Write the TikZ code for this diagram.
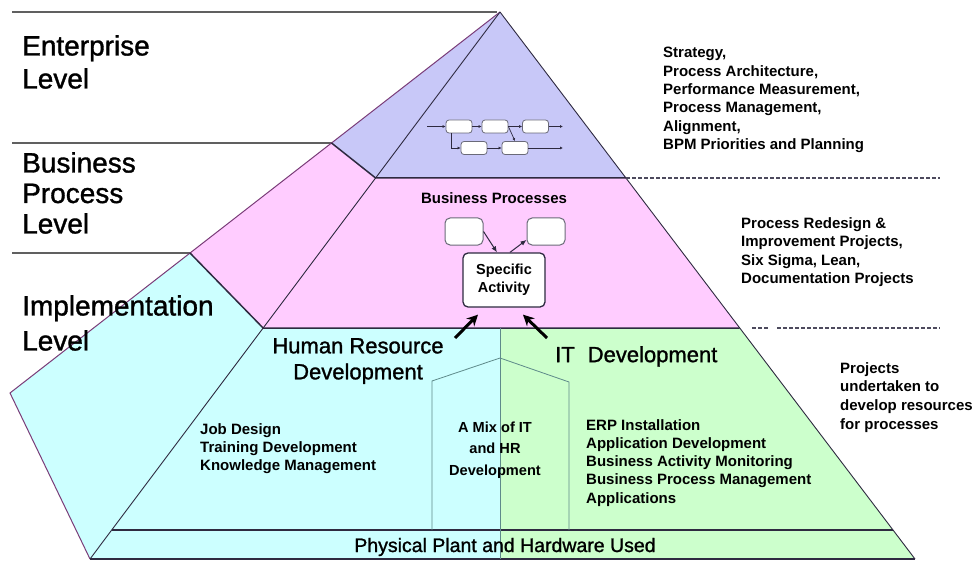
\documentclass[tikz,border=0pt]{standalone}
\usepackage{fontspec}
\setmainfont{Liberation Sans}
\newfontfamily\heavysans[FakeBold=1.2]{Liberation Sans}
\usetikzlibrary{arrows.meta,calc}
\definecolor{lav}{HTML}{C8C8F8}
\definecolor{pinkf}{HTML}{FFCCFF}
\definecolor{cyanf}{HTML}{CCFFFF}
\definecolor{greenf}{HTML}{CCFFCC}
\definecolor{edge}{HTML}{2E2A40}
\definecolor{rim}{HTML}{7A3C78}
\definecolor{rule}{HTML}{606060}
\definecolor{seam}{HTML}{5E8A8A}
\definecolor{boxline}{HTML}{6A6A78}
\begin{document}
\begin{tikzpicture}[x=1pt,y=-1pt,
  lvl/.style={font=\heavysans\fontsize{28}{33}\selectfont, align=left, anchor=north west, inner sep=0pt},
  note/.style={font=\fontsize{15}{18.4}\selectfont\bfseries, align=left, anchor=north west, inner sep=0pt},
  big/.style={font=\heavysans\fontsize{22}{26}\selectfont, inner sep=0pt},
  fbox/.style={draw=boxline, fill=white, rounded corners=3pt, minimum width=26pt, minimum height=13pt, inner sep=0pt, line width=0.8pt},
  pbox/.style={draw=boxline, fill=white, rounded corners=5pt, minimum width=38pt, minimum height=27pt, inner sep=0pt, line width=1pt},
  flow/.style={draw=edge, line width=0.7pt, -{Latex[length=3pt,width=3pt]}},
  thin arrow/.style={draw=edge, line width=1pt, -{Latex[length=6pt,width=5pt]}},
  fat arrow/.style={draw=black, line width=3pt, -{Stealth[length=11pt,width=11pt]}},
  guide/.style={draw=rule, line width=1.2pt},
  ridge/.style={draw=edge, line width=1.5pt},
  dashrule/.style={draw=edge!85, line width=1.3pt, dash pattern=on 4pt off 2pt}]
\useasboundingbox (0,0) rectangle (976,561);

% corner points of the pyramid
\coordinate (apex) at (500,12);
\coordinate (far) at (10,393);
\coordinate (bl) at (90,559);
\coordinate (br) at (915,559);
\coordinate (o1) at (331.5,143);
\coordinate (o2) at (190,253);
\coordinate (f1) at (375.6,178);
\coordinate (r1) at (626,178);
\coordinate (f2) at (263.1,328);
\coordinate (r2) at (739.7,328);
\coordinate (f3) at (111.7,530);
\coordinate (r3) at (893,530);
\coordinate (m2) at (500,328);
\coordinate (mb) at (500,559);

% level fills
\fill[lav] (apex) -- (o1) -- (f1) -- (r1) -- cycle;
\fill[pinkf] (o1) -- (o2) -- (f2) -- (r2) -- (r1) -- (f1) -- cycle;
\fill[cyanf] (o2) -- (far) -- (bl) -- (mb) -- (m2) -- (f2) -- cycle;
\fill[greenf] (m2) -- (r2) -- (br) -- (mb) -- cycle;

% level guide lines on the left
\draw[guide] (12,12) -- (497,12);
\draw[guide] (12,143) -- (o1);
\draw[guide] (12,253) -- (o2);

% pyramid edges
\draw[rim, line width=1pt] (apex) -- (far) -- (bl);
\draw[edge, line width=0.9pt] (apex) -- (bl);
\draw[edge, line width=0.9pt] (apex) -- (br);
\draw[ridge] (o1) -- (f1) -- (r1);
\draw[ridge] (o2) -- (f2) -- (r2);
\draw[ridge] (f3) -- (r3);
\draw[edge, line width=1.2pt] (bl) -- (br);
\draw[seam, line width=0.8pt] (m2) -- (mb);
\draw[seam, line width=0.8pt] (432,530) -- (432,381) -- (500,358) -- (569,382) -- (569,530);

% dashed extensions
\draw[dashrule] (r1) -- (940,178);
\draw[dashrule] (752,328) -- (768,328);
\draw[dashrule] (777,328) -- (940,328);

% level names
\node[lvl] (ent) at (22,35) {Enterprise\\Level};
\node[lvl, font=\heavysans\fontsize{28}{30.5}\selectfont] (bpl) at (22,152) {Business\\Process\\Level};
\node[lvl, font=\heavysans\fontsize{28}{35}\selectfont] (impl) at (22,295) {Implementation\\Level};

% right-hand notes
\node[note] (entnote) at (663,47) {Strategy,\\Process Architecture,\\Performance Measurement,\\Process Management,\\Alignment,\\BPM Priorities and Planning};
\node[note, font=\fontsize{15}{18.5}\selectfont\bfseries] (bpnote) at (741,217) {Process Redesign \&\\Improvement Projects,\\Six Sigma, Lean,\\Documentation Projects};
\node[note, font=\fontsize{15}{18.7}\selectfont\bfseries] (imnote) at (840,362) {Projects\\undertaken to\\develop resources\\for processes};

% enterprise process flow
\node[fbox] (b1) at (459,126.5) {};
\node[fbox] (b2) at (495,126.5) {};
\node[fbox] (b3) at (535.5,126.5) {};
\node[fbox] (b4) at (474,148) {};
\node[fbox] (b5) at (515,148) {};
\coordinate (fin) at (427,126.5);
\coordinate (fout1) at (563,126.5);
\coordinate (fout2) at (563,148);
\draw[flow] (fin) -- (b1);
\draw[flow] (b1) -- (b2);
\draw[flow] (b2) -- (b3);
\draw[flow] (b3) -- (fout1);
\draw[flow] ([xshift=-8pt]b1.south) |- (b4);
\draw[flow] (b4) -- (b5);
\draw[flow] (b5) -- (fout2);
\draw[flow] (b2.east) -- (b5.north);

% business processes
\node[font=\fontsize{15}{18}\selectfont\bfseries, inner sep=0pt, anchor=base] (bptitle) at (494,204) {Business Processes};
\node[pbox] (pb1) at (464,231.5) {};
\node[pbox] (pb2) at (546,231.5) {};
\node[draw=edge, fill=white, rounded corners=5pt, line width=1.3pt, minimum width=82pt, minimum height=54pt, inner sep=0pt,
      font=\fontsize{14.5}{18}\selectfont\bfseries, align=center] (sa) at (504,280) {Specific\\Activity};
\draw[thin arrow] (pb1.east) -- ($(sa.north)+(-7,0)$);
\draw[thin arrow] ($(sa.north)+(6,0)$) -- ($(pb2.west)!0.6!(pb2.south west)$);

% resource arrows into the activity
\coordinate (hrtail) at (455,338);
\coordinate (ittail) at (547,338);
\draw[fat arrow] (hrtail) -- ($(sa.south)+(-26,7)$);
\draw[fat arrow] (ittail) -- ($(sa.south)+(19,7)$);

% implementation level labels
\node[big, align=center, anchor=north] (hrd) at (358,338) {Human Resource\\Development};
\node[big, anchor=north west] (itd) at (555,346) {IT\hspace{13pt}Development};
\node[note] (hrlist) at (200,423) {Job Design\\Training Development\\Knowledge Management};
\node[note, font=\fontsize{14.6}{21.5}\selectfont\bfseries, align=center, anchor=north] (mix) at (495,421.5) {A Mix of IT\\and HR\\Development};
\node[note, font=\fontsize{15}{18.3}\selectfont\bfseries] (itlist) at (586,419) {ERP Installation\\Application Development\\Business Activity Monitoring\\Business Process Management\\Applications};
\node[font=\heavysans\fontsize{19.5}{22}\selectfont, inner sep=0pt, anchor=base] (plant) at (505,552) {Physical Plant and Hardware Used};
\end{tikzpicture}
\end{document}
